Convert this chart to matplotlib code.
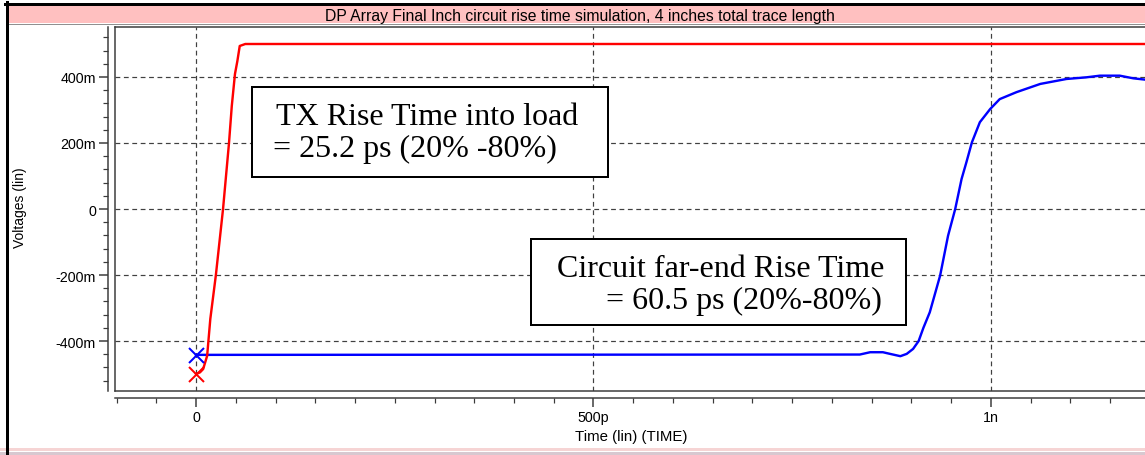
import matplotlib
matplotlib.use("Agg")
import matplotlib.pyplot as plt
from matplotlib.patches import Rectangle
from matplotlib.lines import Line2D
from matplotlib.ticker import MultipleLocator, FixedLocator, FixedFormatter

W, H = 1145, 456
DPI = 100

title = "DP Array Final Inch circuit rise time simulation, 4 inches total trace length"

# time in ps, voltage in V
tx_time = [0, 5, 9, 14, 18, 25, 34, 41.5, 45, 49, 52, 55, 62, 1230]
tx_volt = [-0.500, -0.495, -0.485, -0.445, -0.333, -0.200, 0.000, 0.200,
           0.312, 0.409, 0.448, 0.494, 0.500, 0.500]

far_time = [0, 835, 848, 864, 873, 886, 894, 902, 909, 915, 923, 936, 946,
            955, 963, 969, 976, 986, 999, 1011, 1032, 1062, 1095, 1120,
            1137, 1162, 1179, 1194, 1230]
far_volt = [-0.442, -0.441, -0.434, -0.434, -0.439, -0.446, -0.439, -0.424,
            -0.400, -0.360, -0.313, -0.202, -0.081, 0.000, 0.091, 0.141,
            0.202, 0.263, 0.303, 0.333, 0.354, 0.379, 0.394, 0.399, 0.404,
            0.404, 0.396, 0.392, 0.390]

far_marker = (0, -0.442)
tx_marker = (0, -0.500)

xtick_vals = [0, 500, 1000]
xtick_labels = ["0", "500p", "1n"]
ytick_vals = [-0.4, -0.2, 0.0, 0.2, 0.4]
ytick_labels = ["-400m", "-200m", "0", "200m", "400m"]

tx_note = ["TX Rise Time into load", "= 25.2 ps (20% -80%)"]
far_note = ["Circuit far-end Rise Time", "= 60.5 ps (20%-80%)"]

SANS = ["Liberation Sans", "DejaVu Sans"]
SERIF = ["Liberation Serif", "DejaVu Serif"]


def fx(px):
    return px / W


def fy(py):
    return 1 - py / H


def pt(px):
    return px * 72 / DPI


fig = plt.figure(figsize=(W / DPI, H / DPI), dpi=DPI)
fig.patch.set_facecolor("white")

# window decorations: border, pink title bar, bottom strip
fig.add_artist(Rectangle((fx(8), fy(24)), 1, 17 / H, transform=fig.transFigure,
                         facecolor="#FFC0C0", edgecolor="none"))
fig.add_artist(Line2D([fx(8), 1], [fy(25), fy(25)], color="#909090", lw=pt(1)))
fig.add_artist(Line2D([fx(6.5), fx(6.5)], [0, fy(3)], color="black", lw=pt(3)))
fig.add_artist(Line2D([fx(5), 1], [fy(4.5), fy(4.5)], color="black", lw=pt(3)))
fig.add_artist(Rectangle((0, fy(452)), 1, 3 / H, transform=fig.transFigure,
                         facecolor="#F6D4D4", edgecolor="none"))
fig.add_artist(Rectangle((0, 0), 1, 3.5 / H, transform=fig.transFigure,
                         facecolor="#D8C8D0", edgecolor="none"))
fig.text(fx(580), fy(16), title, ha="center", va="center",
         fontsize=11.3, family=SANS, color="black")

# plot area: left 115 px, top 28 px, bottom 392 px, runs past the right edge
ax = fig.add_axes([fx(115), fy(392), 1045 / W, 364 / H])
ax.set_xlim(-101.9, 1212.6)
ax.set_ylim(-0.5515, 0.5515)

ax.plot(far_time, far_volt, color="#0000FF", lw=pt(2.4), zorder=3)
ax.plot(tx_time, tx_volt, color="#FF0000", lw=pt(2.4), zorder=4)
ax.plot(*far_marker, marker="x", color="#0000FF", ms=pt(15), mew=pt(2),
        zorder=5, clip_on=False)
ax.plot(*tx_marker, marker="x", color="#FF0000", ms=pt(15), mew=pt(2),
        zorder=5, clip_on=False)

# axes spines pushed outward, frame drawn separately
frame_c = "#3a3a3a"
for side in ["left", "bottom"]:
    ax.spines[side].set_position(("outward", pt(7)))
    ax.spines[side].set_color(frame_c)
    ax.spines[side].set_linewidth(pt(1.5))
ax.spines["top"].set_color(frame_c)
ax.spines["top"].set_linewidth(pt(1.5))
ax.spines["right"].set_visible(False)
ax.add_artist(Line2D([0, 0], [0, 1], transform=ax.transAxes, color=frame_c,
                     lw=pt(1.5), clip_on=False))
ax.add_artist(Line2D([0, 1], [0, 0], transform=ax.transAxes, color=frame_c,
                     lw=pt(1.5), clip_on=False))

ax.xaxis.set_major_locator(FixedLocator(xtick_vals))
ax.xaxis.set_major_formatter(FixedFormatter(xtick_labels))
ax.xaxis.set_minor_locator(MultipleLocator(50))
ax.yaxis.set_major_locator(FixedLocator(ytick_vals))
ax.yaxis.set_major_formatter(FixedFormatter(ytick_labels))
ax.yaxis.set_minor_locator(MultipleLocator(0.04))

ax.tick_params(which="major", direction="out", length=pt(9), width=pt(1.5),
               color=frame_c, labelsize=10.3, pad=pt(3))
ax.tick_params(which="minor", direction="out", length=pt(5), width=pt(1.2),
               color=frame_c)
for lab in ax.get_xticklabels() + ax.get_yticklabels():
    lab.set_family(SANS)

ax.grid(True, which="major", color="#404040", lw=pt(1.2),
        linestyle=(0, (4, 3)))
ax.set_axisbelow(True)

fig.text(fx(20), fy(208), "Voltages (lin)", rotation=90, ha="center",
         va="center", fontsize=10, family=SANS)
fig.text(fx(631), fy(437), "Time (lin) (TIME)", ha="center", va="center",
         fontsize=10.8, family=SANS)

# annotation boxes
box_kw = dict(transform=ax.transAxes, facecolor="white", edgecolor="black",
              lw=pt(2), zorder=6)
ax.add_patch(Rectangle((0.1311, 0.5879), 0.4718 - 0.1311, 0.8352 - 0.5879,
                       **box_kw))
ax.add_patch(Rectangle((0.3981, 0.1813), 0.7569 - 0.3981, 0.4176 - 0.1813,
                       **box_kw))
note_kw = dict(transform=ax.transAxes, fontsize=23, family=SERIF,
               va="baseline", zorder=7)
ax.text(0.1541, 0.7335, tx_note[0], ha="left", **note_kw)
ax.text(0.1512, 0.6456, tx_note[1], ha="left", **note_kw)
ax.text(0.7359, 0.3159, far_note[0], ha="right", **note_kw)
ax.text(0.7340, 0.2280, far_note[1], ha="right", **note_kw)

fig.savefig("out.png", dpi=DPI)
